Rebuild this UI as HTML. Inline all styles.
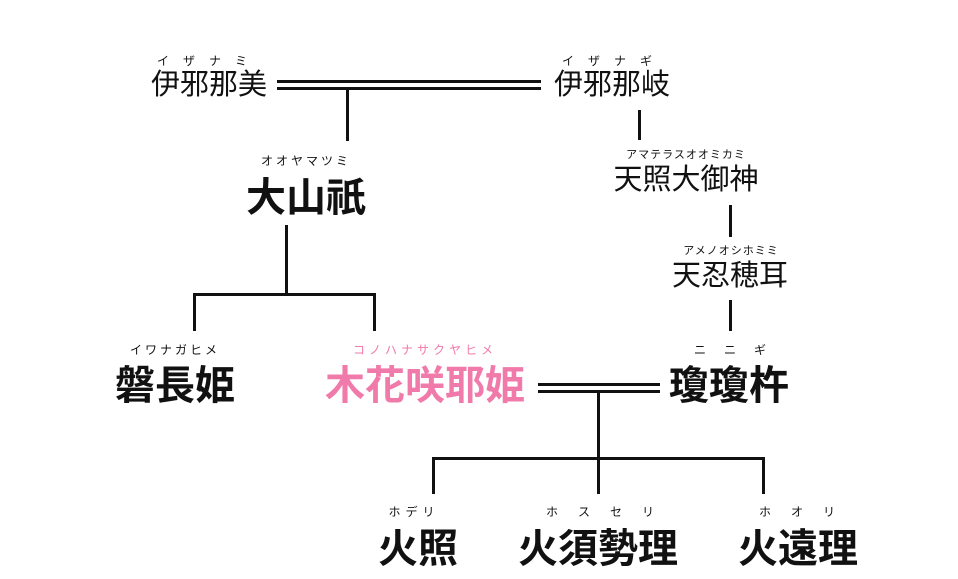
<!DOCTYPE html>
<html><head><meta charset="utf-8"><style>
body{margin:0;width:958px;height:579px;background:#fff;position:relative;overflow:hidden;font-family:"Liberation Sans","Noto Sans CJK JP",sans-serif;color:#111}
.t{position:absolute;white-space:nowrap;text-align:center;transform:translateX(-50%);line-height:1}
.r{font-size:12px;letter-spacing:2px}
.n{font-size:29px}
.b{font-size:40px;font-weight:bold}
.p{color:#f07aaa}
.l{position:absolute;background:#111}
</style></head><body>
<div class="t r" style="left:209px;top:55px;letter-spacing:14px">イザナミ</div>
<div class="t n" style="left:209px;top:71px">伊邪那美</div>
<div class="t r" style="left:614px;top:55px;letter-spacing:14px">イザナギ</div>
<div class="t n" style="left:612px;top:71px">伊邪那岐</div>
<div class="l" style="left:277px;top:80px;width:264px;height:3px"></div>
<div class="l" style="left:277px;top:87px;width:264px;height:3px"></div>
<div class="l" style="left:346px;top:89px;width:3px;height:52px"></div>
<div class="l" style="left:638px;top:110px;width:3px;height:30px"></div>

<div class="t r" style="left:306px;top:155px;letter-spacing:3px">オオヤマツミ</div>
<div class="t b" style="left:306px;top:178px">大山祇</div>
<div class="t r" style="left:686px;top:150px;letter-spacing:1px;font-size:11px">アマテラスオオミカミ</div>
<div class="t n" style="left:686px;top:166px">天照大御神</div>
<div class="l" style="left:729px;top:205px;width:3px;height:32px"></div>
<div class="t r" style="left:731px;top:246px;letter-spacing:1px;font-size:11px">アメノオシホミミ</div>
<div class="t n" style="left:730px;top:262px">天忍穂耳</div>
<div class="l" style="left:729px;top:300px;width:3px;height:31px"></div>

<div class="l" style="left:285px;top:225px;width:3px;height:69px"></div>
<div class="l" style="left:193px;top:293px;width:183px;height:3px"></div>
<div class="l" style="left:193px;top:293px;width:3px;height:38px"></div>
<div class="l" style="left:373px;top:293px;width:3px;height:38px"></div>

<div class="t r" style="left:175px;top:344px;letter-spacing:3px">イワナガヒメ</div>
<div class="t b" style="left:175px;top:366px">磐長姫</div>
<div class="t r p" style="left:425px;top:344px;letter-spacing:4px">コノハナサクヤヒメ</div>
<div class="t b p" style="left:425px;top:366px">木花咲耶姫</div>
<div class="t r" style="left:730px;top:344px;letter-spacing:18px;padding-left:18px">ニニギ</div>
<div class="t b" style="left:729px;top:366px">瓊瓊杵</div>
<div class="l" style="left:538px;top:383px;width:122px;height:3px"></div>
<div class="l" style="left:538px;top:390px;width:122px;height:3px"></div>
<div class="l" style="left:597px;top:391px;width:3px;height:68px"></div>
<div class="l" style="left:432px;top:457px;width:333px;height:3px"></div>
<div class="l" style="left:432px;top:457px;width:3px;height:37px"></div>
<div class="l" style="left:597px;top:457px;width:3px;height:37px"></div>
<div class="l" style="left:762px;top:457px;width:3px;height:37px"></div>

<div class="t r" style="left:414px;top:506px;letter-spacing:5px">ホデリ</div>
<div class="t b" style="left:418px;top:529px">火照</div>
<div class="t r" style="left:600px;top:506px;letter-spacing:20px;padding-left:20px">ホスセリ</div>
<div class="t b" style="left:598px;top:529px">火須勢理</div>
<div class="t r" style="left:797px;top:506px;letter-spacing:20px;padding-left:20px">ホオリ</div>
<div class="t b" style="left:798px;top:529px">火遠理</div>
</body></html>
